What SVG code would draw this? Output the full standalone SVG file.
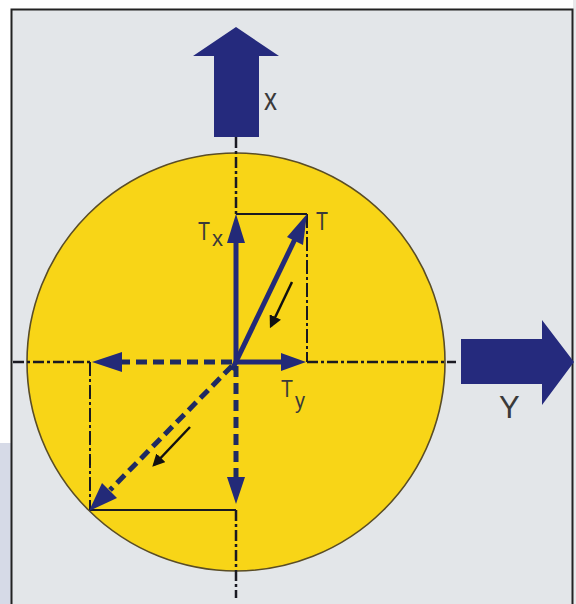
<svg xmlns="http://www.w3.org/2000/svg" width="576" height="604" viewBox="0 0 576 604">
  <defs>
    <style>
      .axis { fill: none; stroke: #1a1a22; stroke-width: 2.5; stroke-dasharray: 11 3 3 3; }
      .thin { fill: none; stroke: #1a1a22; stroke-width: 2; }
      .thindd { fill: none; stroke: #1a1a22; stroke-width: 2; stroke-dasharray: 14 3 3 3; }
      .vec { fill: none; stroke: #232a78; stroke-width: 5; }
      .dash { fill: none; stroke: #1f2b62; stroke-width: 5; stroke-dasharray: 11 6; }
      .head { fill: #232a78; }
      .big { fill: #252a7d; }
      .small { fill: none; stroke: #111; stroke-width: 2.5; }
      .lbl { font-family: "Liberation Sans", Arial, sans-serif; fill: #3a3a3a; }
    </style>
    <marker id="sm" viewBox="0 0 10 10" refX="8" refY="5" markerWidth="5" markerHeight="5" orient="auto" markerUnits="strokeWidth">
      <path d="M0,0 L10,5 L0,10 z" fill="#111"/>
    </marker>
  </defs>

  <!-- page background -->
  <rect x="0" y="0" width="576" height="604" fill="#ffffff"/>
  <rect x="0" y="443" width="12" height="161" fill="#d6dae7"/>
  <rect x="573" y="0" width="3" height="604" fill="#e8e9eb"/>
  <rect id="frame" x="11.5" y="9.5" width="561" height="600" fill="#e3e6e9" stroke="#222" stroke-width="2"/>

  <!-- circle -->
  <g id="disk">
    <circle cx="236" cy="362" r="209" fill="#f8d517" stroke="#5a4d26" stroke-width="1.6"/>
  </g>

  <g id="connectors">
    <!-- axes (dash-dot) -->
    <line class="axis" x1="236" y1="137" x2="236" y2="214"/>
    <line class="axis" x1="236" y1="510" x2="236" y2="598"/>
    <line class="axis" x1="13" y1="362" x2="90" y2="362"/>
    <line class="axis" x1="307" y1="362" x2="456" y2="362"/>

    <!-- construction rectangles -->
    <polyline class="thin" points="236,214 307,214"/>
    <line class="thindd" x1="307" y1="214" x2="307" y2="362"/>
    <line class="thindd" x1="90" y1="362" x2="90" y2="510"/>
    <line class="thin" x1="90" y1="510" x2="236" y2="510"/>

    <!-- Tx -->
    <line class="vec" x1="236" y1="364" x2="236" y2="240"/>
    <polygon class="head" points="236,214 245,243 227,243"/>
    <!-- Ty -->
    <line class="vec" x1="234" y1="362" x2="284" y2="362"/>
    <polygon class="head" points="306,362 281,353 281,371"/>
    <!-- T -->
    <line class="vec" x1="232" y1="370" x2="296" y2="237"/>
    <polygon class="head" points="307,214 303,245 287,237"/>

    <!-- dashed opposites -->
    <line class="dash" x1="232" y1="362" x2="120" y2="362"/>
    <polygon class="head" points="92,362 122,352 122,372"/>
    <line class="dash" x1="236" y1="366" x2="236" y2="480"/>
    <polygon class="head" points="236,504 227,477 245,477"/>
    <line class="dash" x1="232" y1="366" x2="110" y2="490"/>
    <polygon class="head" points="89,511 102,483 117,498"/>

    <!-- small direction arrows -->
    <line class="small" x1="292" y1="282" x2="271" y2="326" marker-end="url(#sm)"/>
    <line class="small" x1="190" y1="427" x2="154" y2="465" marker-end="url(#sm)"/>
  </g>

  <!-- big axis arrows -->
  <g id="arrow-x">
    <polygon class="big" points="236,27 279,56 259,56 259,137 214,137 214,56 193,56"/>
    <text class="lbl" x="264" y="110" font-size="32" textLength="13" lengthAdjust="spacingAndGlyphs">x</text>
  </g>
  <g id="arrow-y">
    <polygon class="big" points="574,362 542,320 542,339 461,339 461,384 542,384 542,405"/>
    <text class="lbl" x="499" y="418" font-size="31">Y</text>
  </g>

  <!-- labels -->
  <g id="label-T">
    <text class="lbl" x="316" y="230" font-size="25" textLength="12" lengthAdjust="spacingAndGlyphs">T</text>
  </g>
  <g id="label-Tx">
    <text class="lbl" x="198" y="240" font-size="25" textLength="12" lengthAdjust="spacingAndGlyphs">T</text>
    <text class="lbl" x="212" y="246" font-size="22" textLength="11" lengthAdjust="spacingAndGlyphs">x</text>
  </g>
  <g id="label-Ty">
    <text class="lbl" x="281" y="397" font-size="24" textLength="12" lengthAdjust="spacingAndGlyphs">T</text>
    <text class="lbl" x="295" y="408" font-size="22" textLength="10" lengthAdjust="spacingAndGlyphs">y</text>
  </g>
</svg>
